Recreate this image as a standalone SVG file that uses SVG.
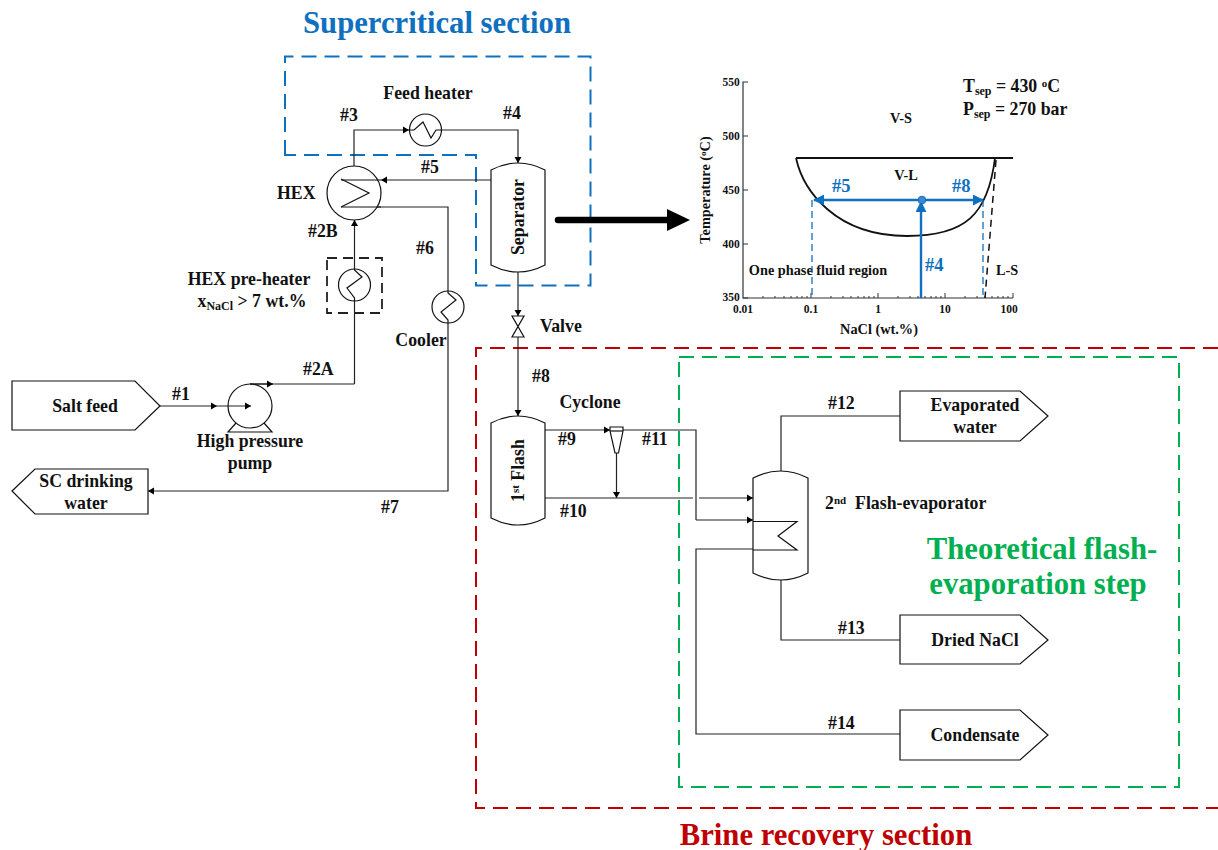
<svg xmlns="http://www.w3.org/2000/svg" width="1218" height="850" viewBox="0 0 1218 850">
<defs>
<marker id="a" viewBox="0 0 8 8" refX="7" refY="4" markerWidth="8" markerHeight="8" markerUnits="userSpaceOnUse" orient="auto"><path d="M1 0.5L7 4L1 7.5Z" fill="#000"/></marker>
<marker id="b" viewBox="0 0 12 12" refX="11" refY="6" markerWidth="11" markerHeight="11" markerUnits="userSpaceOnUse" orient="auto"><path d="M0 0L12 6L0 12Z" fill="#0f70c0"/></marker>
</defs>
<style>
text{font-family:"Liberation Serif","Times New Roman",serif;font-weight:bold;fill:#111;font-size:17.800px}
.m{text-anchor:middle}
.s{fill:none;stroke:#111;stroke-width:1.2}
.e{fill:#fff;stroke:#111;stroke-width:1.2}
.c{fill:none;stroke:#222;stroke-width:1.2;marker-end:url(#a)}
.l{fill:none;stroke:#222;stroke-width:1.2}
.t{font-size:14.300px}
.n{font-size:11.500px}
.bl{fill:#0f70c0;font-size:18.500px}
.hd{font-size:30.700px}
</style>
<rect width="1218" height="850" fill="#fff"/>
<g id="regions" fill="none" stroke-width="2" stroke-dasharray="15 8">
<path id="supercritical-region" d="M285 155V56.500H590.500V285.500H476V155Z" stroke="#0f70c0"/>
<path id="brine-region" d="M1218 348H476V808H1218" stroke="#c00000"/>
<rect id="flash-region" x="679" y="357" width="500" height="430" stroke="#00b050"/>
</g>
<g id="connectors">
<path class="c" d="M354 166V130H409"/>
<path class="c" d="M441 130H518V163"/>
<path class="c" d="M491 180H381"/>
<path class="c" d="M354.500 384V220"/>
<path class="l" d="M341 207H448V291"/>
<path class="c" d="M448 323V491H148"/>
<path class="c" d="M160 406H217"/>
<path class="c" d="M217 406H251"/>
<path class="l" d="M250 384H354.500"/>
<path class="c" d="M250 384H273"/>
<path class="c" d="M518 272V316"/>
<path class="c" d="M518 337V416"/>
<path class="c" d="M545 430H610"/>
<path class="l" d="M623 430H696V520"/>
<path class="c" d="M696 520H753"/>
<path class="c" d="M616.500 453V498"/>
<path class="l" d="M545 498H693"/>
<path class="c" d="M699 498H753"/>
<path class="l" d="M753 549H696V734H900"/>
<path class="l" d="M781 471V416H900"/>
<path class="l" d="M781 580V640H900"/>
</g>
<g id="feed-heater"><circle class="e" cx="425.500" cy="130" r="16"/><path class="s" d="M409.500 130H414L423 122L431 138L436 130H441.500"/><text class="m" x="428" y="99">Feed heater</text></g>
<g id="hex"><circle class="e" cx="354" cy="193" r="27"/><path class="s" d="M341 179L369 193L341 207"/><path class="s" d="M341 180H381M341 207H381"/><text x="277" y="199">HEX</text></g>
<g id="pre-heater"><rect x="327" y="258" width="55" height="55" fill="none" stroke="#222" stroke-width="1.800" stroke-dasharray="10 6"/><circle class="e" cx="354.500" cy="285" r="16"/><path class="s" d="M354.500 269V270L362 277L347 288L354.500 298V301"/><text class="m" x="249" y="285">HEX pre-heater</text><text class="m" x="252" y="307">x<tspan font-size="12" dy="3">NaCl</tspan><tspan dy="-3"> &gt; 7 wt.%</tspan></text></g>
<g id="cooler"><circle class="e" cx="448" cy="307" r="16"/><path class="s" d="M448 291V293L456 300L441 312L448 320V323"/><text class="m" x="421" y="346">Cooler</text></g>
<g id="separator"><path class="e" d="M491 170Q518 156 545 170V265Q518 279 491 265Z"/><text class="m" transform="translate(524 217) rotate(-90)">Separator</text></g>
<g id="valve"><path class="e" d="M512 316H524L512 337H524Z"/><text x="540" y="332">Valve</text></g>
<g id="salt-feed"><path class="e" d="M12 381H135L160 406L135 430H12Z"/><text class="m" x="85" y="412">Salt feed</text></g>
<g id="pump"><circle class="s" cx="250" cy="406" r="22"/><path class="s" d="M236 423L228 432H272L264 423"/><text class="m" x="250" y="447">High pressure</text><text class="m" x="250" y="469">pump</text></g>
<g id="sc-water"><path class="e" d="M12 491L35 469H148V514H35Z"/><text class="m" x="86" y="487">SC drinking</text><text class="m" x="86" y="509">water</text></g>
<g id="flash1"><path class="e" d="M491 423Q518 409 545 423V518Q518 532 491 518Z"/><text transform="translate(524 502) rotate(-90)">1<tspan font-size="11" dy="-5">st</tspan><tspan dy="5"> Flash</tspan></text></g>
<g id="cyclone"><path class="e" d="M610 427H623V431L618.500 453H615L610 431Z"/><path class="s" d="M610 431H623"/><text class="m" x="590" y="408">Cyclone</text></g>
<g id="flash2"><path class="e" d="M753 478Q780.500 464 808 478V573Q780.500 587 753 573Z"/><path class="s" d="M753 521.500H797L778 536L797 550H753"/><text x="825" y="509">2<tspan font-size="11" dy="-5">nd</tspan><tspan dy="5" xml:space="preserve">  Flash-evaporator</tspan></text></g>
<g id="evaporated-water"><path class="e" d="M900 391H1020L1048 416L1020 441H900Z"/><text class="m" x="975" y="411">Evaporated</text><text class="m" x="975" y="433">water</text></g>
<g id="dried-nacl"><path class="e" d="M900 615H1020L1048 640L1020 664H900Z"/><text class="m" x="975" y="646">Dried NaCl</text></g>
<g id="condensate"><path class="e" d="M900 710H1020L1048 735L1020 760H900Z"/><text class="m" x="975" y="741">Condensate</text></g>
<g id="stream-labels">
<text x="340" y="121">#3</text><text x="503" y="119">#4</text><text x="421" y="173">#5</text><text x="308" y="237">#2B</text><text x="416" y="254">#6</text><text x="303" y="375">#2A</text><text x="172" y="400">#1</text><text x="381" y="513">#7</text><text x="532" y="382">#8</text><text x="558" y="445">#9</text><text x="642" y="445">#11</text><text x="560" y="517">#10</text><text x="828" y="409">#12</text><text x="838" y="634">#13</text><text x="828" y="729">#14</text>
</g>
<path id="transfer-arrow" d="M558 220H668" stroke="#000" stroke-width="6.500" stroke-linecap="round" fill="none"/>
<path id="transfer-arrow-head" d="M667 209L690 220L667 231Z" fill="#000"/>
<g id="phase-chart">
<path d="M748 82H743V298H1013" fill="none" stroke="#333" stroke-width="1.200"/>
<path d="M743 136H748M743 190H748M743 244H748M743 298H748M811 298V293M878 298V293M945 298V293M1013 298V293M763 298V296M775 298V296M784 298V296M791 298V296M797 298V296M802 298V296M807 298V296M831 298V296M843 298V296M851 298V296M858 298V296M864 298V296M869 298V296M874 298V296M898 298V296M910 298V296M918 298V296M925 298V296M931 298V296M936 298V296M941 298V296M965 298V296M977 298V296M985 298V296M992 298V296M998 298V296M1003 298V296M1008 298V296" stroke="#333" stroke-width="1" fill="none"/>
<text class="m n" x="731" y="86">550</text><text class="m n" x="731" y="140">500</text><text class="m n" x="731" y="194">450</text><text class="m n" x="731" y="248">400</text><text class="m n" x="731" y="301">350</text>
<text class="m n" x="743" y="313">0.01</text><text class="m n" x="811" y="313">0.1</text><text class="m n" x="878" y="313">1</text><text class="m n" x="945" y="313">10</text><text class="m n" x="1009" y="313">100</text>
<text class="m t" x="879" y="334">NaCl (wt.%)</text><text class="m t" transform="translate(710 190) rotate(-90)">Temperature (<tspan font-size="9" dy="-4">o</tspan><tspan dy="4">C)</tspan></text>
<text class="m t" x="901" y="123">V-S</text><text class="m t" x="906" y="180">V-L</text><text class="m t" x="818" y="275">One phase fluid region</text><text class="m t" x="1007" y="275">L-S</text>
<path d="M796 158H1013" stroke="#111" stroke-width="1.800" fill="none"/>
<path d="M796 158C803 190 835 236 907 236C965 236 988 215 995 158" stroke="#111" stroke-width="1.800" fill="none"/>
<path d="M996 160L985 298" stroke="#111" stroke-width="1.500" stroke-dasharray="7 5" fill="none"/>
<path d="M812 200V298M983 200V298" stroke="#0f70c0" stroke-width="1.300" stroke-dasharray="7 4" fill="none"/>
<path d="M922 200H814" stroke="#0f70c0" stroke-width="2.400" fill="none" marker-end="url(#b)"/>
<path d="M922 200H983" stroke="#0f70c0" stroke-width="2.400" fill="none" marker-end="url(#b)"/>
<path d="M921 298V202" stroke="#0f70c0" stroke-width="2.400" fill="none" marker-end="url(#b)"/>
<circle cx="922" cy="200" r="3.800" fill="#3f86d6" stroke="#0f70c0"/>
<text class="bl" x="832" y="192">#5</text><text class="bl" x="952" y="192">#8</text><text class="bl" x="925" y="271">#4</text>
<text x="963" y="92">T<tspan font-size="12" dy="3">sep</tspan><tspan dy="-3"> = 430 </tspan><tspan font-size="11" dy="-5">o</tspan><tspan dy="5">C</tspan></text>
<text x="963" y="115">P<tspan font-size="12" dy="3">sep</tspan><tspan dy="-3"> = 270 bar</tspan></text>
</g>
<g id="headings">
<text class="m hd" x="437" y="33" style="fill:#0f70c0">Supercritical section</text>
<text class="m hd" x="1042" y="559" style="fill:#00b050">Theoretical flash-</text>
<text class="m hd" x="1038" y="594" style="fill:#00b050">evaporation step</text>
<text class="m hd" x="826" y="845" style="fill:#c00000">Brine recovery section</text>
</g>
</svg>
